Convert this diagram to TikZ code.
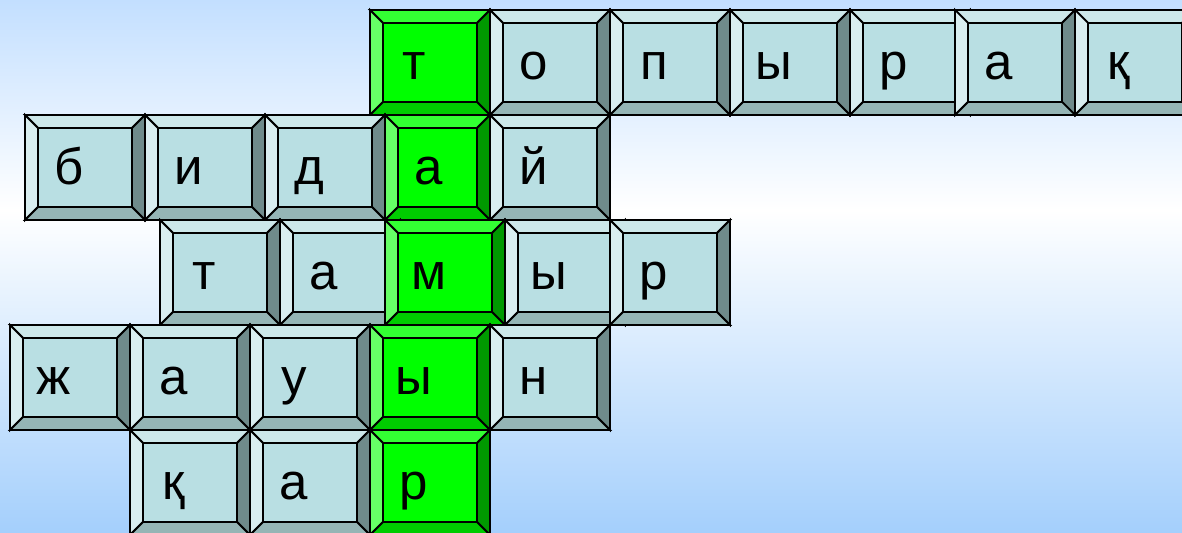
\documentclass[tikz,border=0pt]{standalone}
\usepackage{fontspec}
\setmainfont{Liberation Sans}
\usepackage{tikz}
\usetikzlibrary{positioning}
\definecolor{skytop}{HTML}{C3DFFF}
\definecolor{skybot}{HTML}{A4CFFC}
\definecolor{keyface}{HTML}{B9DFE3}
\definecolor{keytop}{HTML}{CDE8EA}
\definecolor{keyleft}{HTML}{D9EEF0}
\definecolor{keyright}{HTML}{6F8B8B}
\definecolor{keybot}{HTML}{95B5B5}
\definecolor{hitface}{HTML}{00FF00}
\definecolor{hittop}{HTML}{33FF33}
\definecolor{hitleft}{HTML}{66FF66}
\definecolor{hitright}{HTML}{009900}
\definecolor{hitbot}{HTML}{00CC00}

% one bevelled key: name, left, top, width, letter, colour set
\newcommand\keycap[6]{%
  \begin{scope}[shift={(#2,#3)}]
    \filldraw[keyline,fill=#6top]   (0,0) -- (#4,0) -- ({#4-13},13) -- (13,13) -- cycle;
    \filldraw[keyline,fill=#6left]  (0,0) -- (13,13) -- (13,92) -- (0,105) -- cycle;
    \filldraw[keyline,fill=#6right] (#4,0) -- (#4,105) -- ({#4-13},92) -- ({#4-13},13) -- cycle;
    \filldraw[keyline,fill=#6bot]   (0,105) -- (13,92) -- ({#4-13},92) -- (#4,105) -- cycle;
    \filldraw[keyline,fill=#6face]  (13,13) rectangle ({#4-13},92);
    \draw[keyedge] (0,0) rectangle (#4,105);
    \node[letter] (#1) at (44,69.5) {#5};
  \end{scope}}

\begin{document}
\begin{tikzpicture}[x=0.5pt,y=-0.5pt,
  keyline/.style={draw=black,line width=0.9pt,line join=miter},
  keyedge/.style={draw=black,line width=1.4pt},
  letter/.style={anchor=base,inner sep=0pt,font=\fontsize{25.5}{30}\selectfont}]
\useasboundingbox (0,0) rectangle (1182,533);
\clip (0,0) rectangle (1182,533);
% background
\shade[top color=skytop,bottom color=white] (0,0) rectangle (1182,210);
\shade[top color=white,bottom color=skybot] (0,210) rectangle (1182,533);

% row 1
\keycap{t1}{370}{10}{120}{т}{hit}
\keycap{o1}{490}{10}{120}{о}{key}
\keycap{p1}{610}{10}{120}{п}{key}
\keycap{y1}{730}{10}{120}{ы}{key}
\keycap{r1}{850}{10}{120}{р}{key}
\keycap{a1}{955}{10}{120}{а}{key}
\keycap{q1}{1075}{10}{120}{қ}{key}
% row 2
\keycap{b2}{25}{115}{120}{б}{key}
\keycap{i2}{145}{115}{120}{и}{key}
\keycap{d2}{265}{115}{120}{д}{key}
\keycap{a2}{385}{115}{105}{а}{hit}
\keycap{j2}{490}{115}{120}{й}{key}
% row 3
\keycap{t3}{160}{220}{120}{т}{key}
\keycap{a3}{280}{220}{120}{а}{key}
\keycap{m3}{385}{220}{120}{м}{hit}
\keycap{y3}{505}{220}{120}{ы}{key}
\keycap{r3}{610}{220}{120}{р}{key}
% row 4
\keycap{zh4}{10}{325}{120}{ж}{key}
\keycap{a4}{130}{325}{120}{а}{key}
\keycap{u4}{250}{325}{120}{у}{key}
\keycap{y4}{370}{325}{120}{ы}{hit}
\keycap{n4}{490}{325}{120}{н}{key}
% row 5
\keycap{q5}{130}{430}{120}{қ}{key}
\keycap{a5}{250}{430}{120}{а}{key}
\keycap{r5}{370}{430}{120}{р}{hit}
\end{tikzpicture}
\end{document}
